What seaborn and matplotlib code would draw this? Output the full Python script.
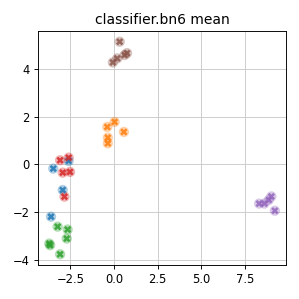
import matplotlib
matplotlib.use("Agg")
import matplotlib.pyplot as plt
from matplotlib.ticker import MultipleLocator
import pandas as pd
import seaborn as sns

# puntos por clase
xs_blue = [-3.48, -2.60, -2.94, -3.61]
ys_blue = [-0.18, 0.14, -1.08, -2.20]
xs_orange = [-0.39, 0.03, 0.56, -0.36, -0.36]
ys_orange = [1.57, 1.78, 1.36, 1.12, 0.88]
xs_green = [-3.23, -2.66, -2.71, -3.71, -3.09, -3.66]
ys_green = [-2.62, -2.74, -3.12, -3.33, -3.78, -3.40]
xs_red = [-3.09, -2.60, -2.94, -2.52, -2.84]
ys_red = [0.17, 0.28, -0.35, -0.32, -1.36]
xs_purple = [8.30, 8.60, 8.85, 9.00, 9.20]
ys_purple = [-1.65, -1.65, -1.50, -1.35, -1.95]
xs_brown = [0.32, -0.07, 0.18, 0.60, 0.74]
ys_brown = [5.15, 4.28, 4.45, 4.59, 4.67]

groups = [
    (xs_blue, ys_blue, 0),
    (xs_orange, ys_orange, 1),
    (xs_green, ys_green, 2),
    (xs_red, ys_red, 3),
    (xs_purple, ys_purple, 4),
    (xs_brown, ys_brown, 5),
]

rows = []
for xs, ys, lab in groups:
    for x, y in zip(xs, ys):
        rows.append({"x": x, "y": y, "label": lab})
df = pd.DataFrame(rows)

palette = sns.color_palette("tab10", 6)

fig, ax = plt.subplots(figsize=(299 / 83, 299 / 83), dpi=83)
sns.scatterplot(data=df, x="x", y="y", hue="label", palette=palette,
                s=80, alpha=0.35, linewidth=0, legend=False, ax=ax)
sns.scatterplot(data=df, x="x", y="y", hue="label", palette=palette,
                marker="X", s=40, alpha=0.85, linewidth=0, legend=False, ax=ax)
ax.xaxis.set_major_locator(MultipleLocator(2.5))
ax.grid(True, color="#cccccc")
ax.set_axisbelow(True)
ax.set_xlabel("")
ax.set_ylabel("")
ax.set_title("classifier.bn6 mean")
fig.subplots_adjust(left=0.127, right=0.957, top=0.896, bottom=0.114)
fig.savefig("out.png")
